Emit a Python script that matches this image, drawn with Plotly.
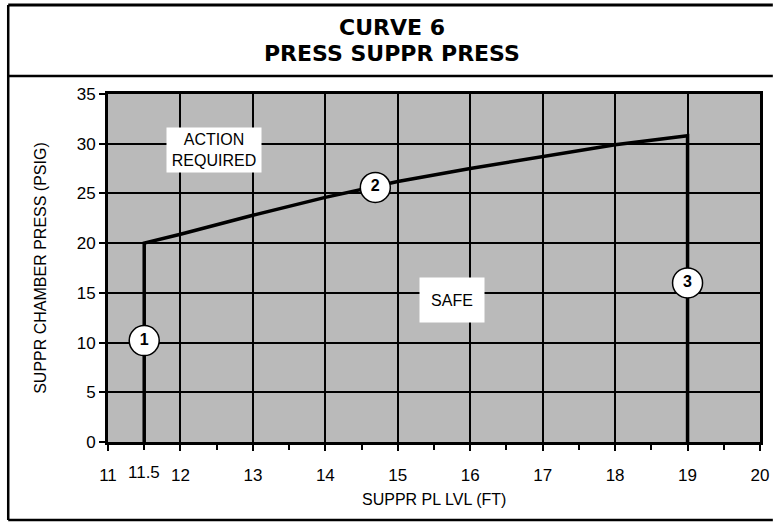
import plotly.graph_objects as go

# ---- data ----
curve_x = [11.5, 11.5, 12, 13, 14, 15, 16, 17, 18, 19, 19]
curve_y = [0, 20, 20.9, 22.8, 24.6, 26.2, 27.5, 28.7, 29.9, 30.8, 0]

point_labels = ["1", "2", "3"]
point_x = [11.5, 14.69, 19.0]
point_y = [10.2, 25.6, 16.0]

region_labels = ["ACTION<br>REQUIRED", "SAFE"]
region_x = [12.47, 15.75]
region_y = [29.4, 14.3]

x_tick_vals = [11, 12, 13, 14, 15, 16, 17, 18, 19, 20]
x_extra_tick = 11.5
y_tick_vals = [0, 5, 10, 15, 20, 25, 30, 35]

title_lines = ["CURVE 6", "PRESS SUPPR PRESS"]
x_title = "SUPPR PL LVL (FT)"
y_title = "SUPPR CHAMBER PRESS (PSIG)"

# ---- geometry ----
W, H = 781, 522
L, R, T, B = 108, 13, 94, 80
PW, PH = W - L - R, H - T - B


def px(xp):
    return (xp - L) / PW


def py(yp):
    return (H - B - yp) / PH


FONT = "Liberation Sans, Arial, sans-serif"
TFONT = "DejaVu Sans, Liberation Sans, sans-serif"

fig = go.Figure()

fig.add_trace(go.Scatter(
    x=curve_x, y=curve_y, mode="lines",
    line=dict(color="black", width=3.5),
    hoverinfo="skip", showlegend=False,
))

fig.add_trace(go.Scatter(
    x=point_x, y=point_y, mode="markers+text",
    marker=dict(size=30, color="white", line=dict(color="black", width=1.5)),
    text=[f"<b>{t}</b>" for t in point_labels], textposition="middle center",
    textfont=dict(family=FONT, size=16, color="black"),
    hoverinfo="skip", showlegend=False,
))

annotations = []
for t, x, y in zip(region_labels, region_x, region_y):
    w = 94 if "<br>" in t else 64
    annotations.append(dict(
        x=x, y=y, xref="x", yref="y", text=t, showarrow=False,
        font=dict(family=FONT, size=16, color="black"),
        bgcolor="white", width=w, height=44, borderpad=0,
        align="center", valign="middle",
    ))

annotations.append(dict(
    x=x_extra_tick, y=py(472), xref="x", yref="paper", text=str(x_extra_tick),
    showarrow=False, font=dict(family=FONT, size=17, color="black"),
    xanchor="center", yanchor="middle",
))

for t, yp in zip(title_lines, [27, 53]):
    annotations.append(dict(
        x=px(395), y=py(yp), xref="paper", yref="paper", text=f"<b>{t}</b>",
        showarrow=False, font=dict(family=TFONT, size=22, color="black"),
        xanchor="center", yanchor="middle",
    ))

annotations.append(dict(
    x=px(39), y=0.5, xref="paper", yref="paper", text=y_title, textangle=-90,
    showarrow=False, font=dict(family=FONT, size=16, color="black"),
    xanchor="center", yanchor="middle",
))
annotations.append(dict(
    x=0.5, y=py(499), xref="paper", yref="paper", text=x_title,
    showarrow=False, font=dict(family=FONT, size=16, color="black"),
    xanchor="center", yanchor="middle",
))

shapes = [
    # outer frame
    dict(type="line", xref="paper", yref="paper", x0=px(7), x1=px(7), y0=py(5), y1=py(520),
         line=dict(color="black", width=2.5)),
    dict(type="line", xref="paper", yref="paper", x0=px(7), x1=px(781), y0=py(5), y1=py(5),
         line=dict(color="black", width=3)),
    dict(type="line", xref="paper", yref="paper", x0=px(7), x1=px(781), y0=py(76), y1=py(76),
         line=dict(color="black", width=2.5)),
    dict(type="line", xref="paper", yref="paper", x0=px(7), x1=px(781), y0=py(520), y1=py(520),
         line=dict(color="black", width=2.5)),
]

fig.update_layout(
    width=W, height=H, autosize=False,
    margin=dict(l=L, r=R, t=T, b=B),
    paper_bgcolor="white", plot_bgcolor="#bababa",
    font=dict(family=FONT, size=17, color="black"),
    annotations=annotations, shapes=shapes,
    showlegend=False,
)

fig.update_xaxes(
    range=[11, 20], tickvals=x_tick_vals, ticktext=[str(v) for v in x_tick_vals],
    showgrid=True, gridcolor="black", gridwidth=2,
    showline=True, linecolor="black", linewidth=3, mirror=True,
    ticks="outside", ticklen=6, tickwidth=2, tickcolor="black",
    tickfont=dict(family=FONT, size=17), ticklabelstandoff=10,
    minor=dict(dtick=0.5, tick0=11, ticks="outside", ticklen=5, tickwidth=2,
               tickcolor="black", showgrid=False),
    zeroline=False, fixedrange=True,
)
fig.update_yaxes(
    range=[0, 35], tickvals=y_tick_vals,
    showgrid=True, gridcolor="black", gridwidth=2,
    showline=True, linecolor="black", linewidth=3, mirror=True,
    ticks="outside", ticklen=6, tickwidth=2, tickcolor="black",
    tickfont=dict(family=FONT, size=17),
    zeroline=False, fixedrange=True,
)

fig.write_html(
    "out.html",
    config={"displayModeBar": False},
    post_script="document.body.style.margin='0px';document.body.style.overflow='hidden';",
)
